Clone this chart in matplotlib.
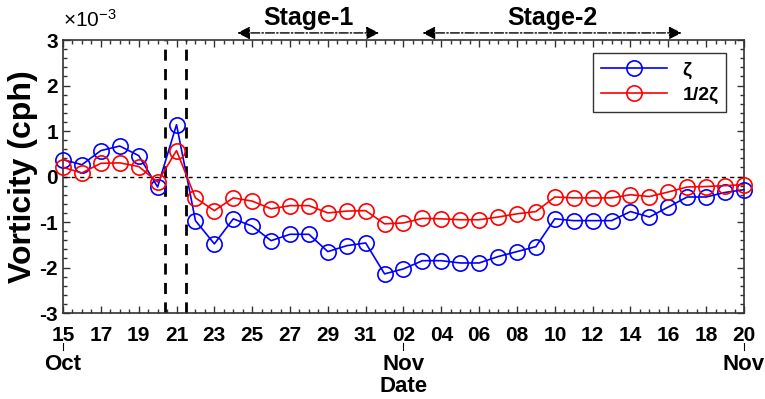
import matplotlib
matplotlib.use("Agg")
import matplotlib.pyplot as plt
import matplotlib.dates as mdates
import matplotlib.ticker as mticker
import pandas as pd

plt.rcParams['font.family'] = ['Liberation Sans', 'DejaVu Sans']
plt.rcParams['font.weight'] = 'bold'
plt.rcParams['mathtext.default'] = 'regular'

# daily values, Oct 15 -> Nov 20 (units of 1e-3 cph)
dates = pd.date_range("2020-10-15", "2020-11-20", freq="D")
zeta = [0.37, 0.26, 0.57, 0.67, 0.46, -0.23, 1.14,
        -0.97, -1.48, -0.93, -1.09, -1.41, -1.27, -1.27, -1.65, -1.52, -1.46,
        -2.14, -2.03, -1.85, -1.85, -1.90, -1.90, -1.76, -1.65, -1.54,
        -0.93, -0.97, -0.97, -0.97, -0.77, -0.89, -0.67, -0.45, -0.45, -0.35, -0.29]
half_zeta = [0.20, 0.08, 0.29, 0.30, 0.22, -0.12, 0.57,
             -0.47, -0.75, -0.47, -0.54, -0.71, -0.64, -0.64, -0.80, -0.76, -0.75,
             -1.04, -1.02, -0.92, -0.93, -0.95, -0.95, -0.89, -0.82, -0.77,
             -0.45, -0.47, -0.47, -0.47, -0.40, -0.44, -0.34, -0.23, -0.22, -0.20, -0.18]

event_lines = ["2020-10-20 10:00", "2020-10-21 12:00"]
stages = [("Stage-1", "2020-10-24 05:00", "2020-10-31 17:00"),
          ("Stage-2", "2020-11-03 00:00", "2020-11-16 17:00")]
month_marks = [("2020-10-15", "Oct"), ("2020-11-02", "Nov"), ("2020-11-20", "Nov")]

fig = plt.figure(figsize=(7.65, 3.99), dpi=100)
ax = fig.add_axes([0.0824, 0.2155, 0.8901, 0.6842])

ax.plot(dates, zeta, color='#0000ff', lw=1.2, marker='o', ms=11,
        mfc='none', mec='#0000ff', mew=1.2, label='ζ', clip_on=False, zorder=4)
ax.plot(dates, half_zeta, color='#ff0000', lw=1.2, marker='o', ms=11,
        mfc='none', mec='#ff0000', mew=1.2, label='1/2ζ', clip_on=False, zorder=4)

ax.axhline(0, color='k', ls=(0, (3, 3)), lw=1)
for d in event_lines:
    ax.axvline(pd.Timestamp(d), color='k', ls=(0, (4, 3)), lw=2)

ax.set_xlim(dates[0], dates[-1])
ax.set_ylim(-3, 3)

# labelled ticks: odd days in Oct, even days in Nov
ticks = list(pd.date_range("2020-10-15", "2020-10-31", freq="2D")) + \
    list(pd.date_range("2020-11-02", "2020-11-20", freq="2D"))
ax.set_xticks(ticks)
ax.set_xticklabels([t.strftime('%d') for t in ticks], fontweight='bold')
ax.xaxis.set_minor_locator(mdates.HourLocator(byhour=[0, 12]))
ax.yaxis.set_major_locator(mticker.MultipleLocator(1))
ax.yaxis.set_minor_locator(mticker.MultipleLocator(0.2))
ax.yaxis.set_major_formatter(mticker.FuncFormatter(lambda v, p: f"{v:.0f}"))
ax.tick_params(which='both', direction='in', top=True, right=True,
               labelsize=15, width=1, color='#333333')
ax.tick_params(which='major', length=5)
ax.tick_params(which='minor', length=3)
for lab in ax.get_yticklabels():
    lab.set_fontweight('bold')
ax.tick_params(axis='x', pad=9)
for s in ax.spines.values():
    s.set_color('#333333')
    s.set_linewidth(1.2)

ax.set_ylabel('Vorticity (cph)', fontsize=23, fontweight='bold', labelpad=1)
ax.text(0.0, 1.035, r'$\times$10$^{-3}$', transform=ax.transAxes, fontsize=15,
        fontweight='normal', ha='left', va='bottom')

# month labels under the date ticks
xt = ax.get_xaxis_transform()
for d, m in month_marks:
    x = mdates.date2num(pd.Timestamp(d))
    ax.plot([x, x], [-0.11, -0.135], transform=xt, color='k', lw=0.8, clip_on=False)
    ax.text(x, -0.19, m, transform=xt, fontsize=16, fontweight='bold',
            ha='center', va='center')
ax.text(mdates.date2num(pd.Timestamp("2020-11-02")), -0.27, 'Date',
        transform=xt, fontsize=16, fontweight='bold', ha='center', va='center')

# stage arrows above the axes
for name, a, b in stages:
    xa, xb = mdates.date2num(pd.Timestamp(a)), mdates.date2num(pd.Timestamp(b))
    ax.annotate('', xy=(xa, 1.026), xytext=(xb, 1.026), xycoords=xt,
                arrowprops=dict(arrowstyle='<|-|>', color='k', lw=1, ls='-.',
                                mutation_scale=19, shrinkA=0, shrinkB=0),
                annotation_clip=False)
    ax.text((xa + xb) / 2, 1.055, name, transform=xt,
            fontsize=18, fontweight='bold', ha='center', va='baseline')

leg = ax.legend(loc='upper right', bbox_to_anchor=(0.9736, 0.952), fontsize=14,
                frameon=True, fancybox=False, edgecolor='k', handlelength=3.4,
                borderpad=0.4, labelspacing=0.4, borderaxespad=0)
leg.get_frame().set_linewidth(1)
for t in leg.get_texts():
    t.set_fontweight('bold')

fig.savefig('out.png', dpi=100)
